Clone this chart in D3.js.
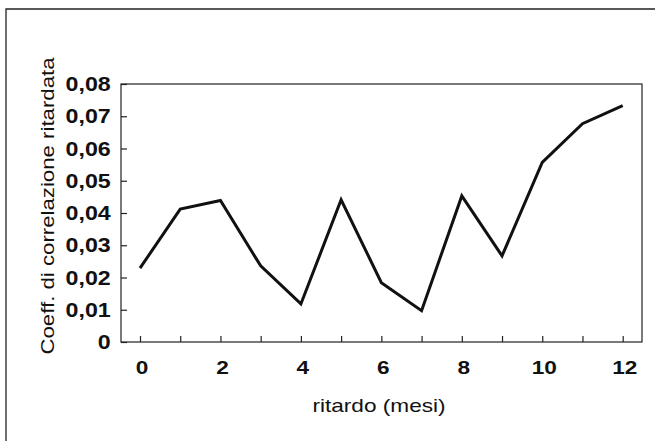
<!DOCTYPE html>
<html>
<head>
<meta charset="utf-8">
<script src="https://cdn.jsdelivr.net/npm/d3@7/dist/d3.min.js"></script>
<style>
  html, body { margin: 0; padding: 0; background: #fff; }
  svg { display: block; }
  text { font-family: "Liberation Sans", Arial, sans-serif; fill: #111; }
</style>
</head>
<body>
<svg id="chart" width="655" height="441"></svg>
<script>
// Lag (months) and lagged correlation coefficient
const lags = [0, 1, 2, 3, 4, 5, 6, 7, 8, 9, 10, 11, 12];
const coeff = [0.0229, 0.0412, 0.0439, 0.0236, 0.0118, 0.0441, 0.0184, 0.0097, 0.0453, 0.0267, 0.0557, 0.0677, 0.0733];
const yTicks = [0, 0.01, 0.02, 0.03, 0.04, 0.05, 0.06, 0.07, 0.08];
const xLabelTicks = [0, 2, 4, 6, 8, 10, 12];
const xTitle = "ritardo (mesi)";
const yTitle = "Coeff. di correlazione ritardata";

const svg = d3.select("#chart");
const stretch = 1.19; // wide-set type

// outer frame
svg.append("path")
  .attr("d", "M6,441 L6,9 L655,9")
  .attr("fill", "none").attr("stroke", "#222").attr("stroke-width", 1.3);

const box = { left: 121, right: 642, top: 84, bottom: 342 };

const x = d3.scaleLinear().domain([0, 12]).range([140, 622.7]);
const y = d3.scaleLinear().domain([0, 0.08]).range([box.bottom, box.top]);

const fmt = d => d === 0 ? "0" : d3.format(".2f")(d).replace(".", ",");

// plot box
svg.append("rect")
  .attr("x", box.left).attr("y", box.top)
  .attr("width", box.right - box.left).attr("height", box.bottom - box.top)
  .attr("fill", "none").attr("stroke", "#222").attr("stroke-width", 1.2);

// y axis: ticks pointing inward
const yAxis = svg.append("g")
  .attr("transform", `translate(${box.left},0)`)
  .call(d3.axisRight(y).tickValues(yTicks).tickSize(6).tickFormat(""));
yAxis.select(".domain").remove();
yAxis.selectAll("line").attr("stroke", "#222").attr("stroke-width", 1.2);

svg.append("g").selectAll("text")
  .data(yTicks).join("text")
  .attr("transform", d => `translate(110.7,${y(d) + 7}) scale(${stretch},1)`)
  .attr("text-anchor", "end")
  .attr("font-size", 19.5)
  .attr("font-weight", "bold")
  .text(fmt);

// x axis: ticks pointing upward
const xAxis = svg.append("g")
  .attr("transform", `translate(0,${box.bottom})`)
  .call(d3.axisTop(x).tickValues(lags).tickSize(6).tickFormat(""));
xAxis.select(".domain").remove();
xAxis.selectAll("line").attr("stroke", "#222").attr("stroke-width", 1.2);

svg.append("g").selectAll("text")
  .data(xLabelTicks).join("text")
  .attr("transform", d => `translate(${x(d) + 2},374) scale(${stretch},1)`)
  .attr("text-anchor", "middle")
  .attr("font-size", 19)
  .attr("font-weight", "bold")
  .text(d => d);

// axis titles
svg.append("text")
  .attr("transform", `translate(379,412) scale(${stretch},1)`)
  .attr("text-anchor", "middle")
  .attr("font-size", 19)
  .text(xTitle);

svg.append("text")
  .attr("transform", `translate(54,206) rotate(-90) scale(1.17,1)`)
  .attr("text-anchor", "middle")
  .attr("font-size", 19)
  .text(yTitle);

// data line
const line = d3.line().x((d, i) => x(lags[i])).y(d => y(d));
svg.append("path")
  .datum(coeff)
  .attr("d", line)
  .attr("fill", "none")
  .attr("stroke", "#111")
  .attr("stroke-width", 3)
  .attr("stroke-linejoin", "miter");
</script>
</body>
</html>
